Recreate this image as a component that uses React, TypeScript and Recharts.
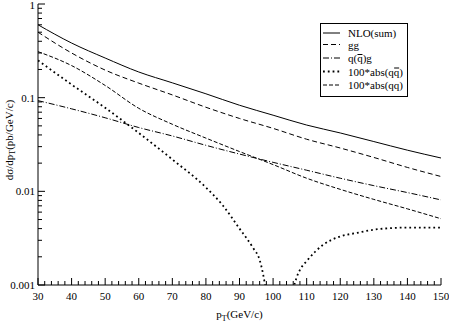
import React from "react";
import { LineChart, Line, XAxis, YAxis, Legend } from "recharts";

// pT grid (GeV/c) shared by the smooth curves
const ptGrid = [30, 40, 50, 60, 70, 80, 90, 100, 110, 120, 130, 140, 150];

// dσ/dpT (pb/GeV/c)
const nloSum = [0.6, 0.383, 0.265, 0.188, 0.144, 0.11, 0.083, 0.065, 0.051, 0.042, 0.034, 0.0275, 0.0227];
const ggVals = [0.5, 0.3, 0.197, 0.143, 0.107, 0.079, 0.06, 0.047, 0.036, 0.029, 0.023, 0.018, 0.0144];
const qgVals = [0.093, 0.076, 0.061, 0.048, 0.039, 0.031, 0.025, 0.0204, 0.0168, 0.0138, 0.0115, 0.0097, 0.0081];
const qqVals = [0.31, 0.22, 0.135, 0.077, 0.052, 0.037, 0.0266, 0.0193, 0.0138, 0.0105, 0.0082, 0.0065, 0.0051];

// 100*abs(qqbar) goes through zero near 102, needs a finer grid there
const ptQqbar = [30, 40, 50, 60, 70, 80, 85, 90, 92, 94, 96, 97, 98, 100, 102, 104, 106, 107, 108, 110, 115, 120, 125, 130, 140, 150];
const qqbarVals = [
  0.25, 0.138, 0.078, 0.042, 0.0219, 0.011, 0.0071, 0.004, 0.0032, 0.0025, 0.00185, 0.00132, 0.00082,
  0.00025, 0.00003, 0.00025, 0.00089, 0.0012, 0.00145, 0.0018, 0.0027, 0.0033, 0.0036, 0.0039, 0.0041, 0.0041,
];

const xTicks = Array.from({ length: 61 }, (_, i) => 30 + i * 2);
const yTicks = [0.001, 0.01, 0.1, 1].flatMap((d) =>
  d === 1 ? [1] : [1, 2, 3, 4, 5, 6, 7, 8, 9].map((m) => +(m * d).toPrecision(3))
);
const yLabels = [0.001, 0.01, 0.1, 1];

const FONT = "'Liberation Serif', 'Times New Roman', serif";

const toPoints = (xs: number[], ys: number[]) => xs.map((pt, i) => ({ pt, v: ys[i] }));

// label pieces: [text before the barred q, barred q, text after]
const SERIES = [
  { id: "nlo", label: ["NLO(sum)", "", ""], data: toPoints(ptGrid, nloSum), dash: undefined, width: 1 },
  { id: "gg", label: ["gg", "", ""], data: toPoints(ptGrid, ggVals), dash: "5 3", width: 1 },
  { id: "qg", label: ["q(", "q", ")g"], data: toPoints(ptGrid, qgVals), dash: "6 2 1 2", width: 1 },
  { id: "qqbar", label: ["100*abs(q", "q", ")"], data: toPoints(ptQqbar, qqbarVals), dash: "1.8 3", width: 1.8 },
  { id: "qq", label: ["100*abs(qq)", "", ""], data: toPoints(ptGrid, qqVals), dash: "4 2", width: 1 },
];

// legend row centres inside the box (rows with a bar get a bit more room)
const rowY = [10, 21.5, 35, 48.5, 62];

// Times/Liberation Serif advance widths (em) for the glyphs before a bar
const GLYPH_W: Record<string, number> = { q: 0.5, "(": 0.333, "1": 0.5, "0": 0.5, "*": 0.5, a: 0.444, b: 0.5, s: 0.389 };
const textWidth = (s: string, size: number) => s.split("").reduce((w, c) => w + (GLYPH_W[c] ?? 0.5) * size, 0);

function BottomTick(props: any) {
  const { x, y, payload } = props;
  const major = payload.value % 10 === 0;
  return (
    <g>
      <line x1={x} y1={y} x2={x} y2={y - (major ? 7 : 4)} stroke="#000" />
      {major && (
        <text x={x} y={y + 15} textAnchor="middle" fontSize={11} fontFamily={FONT} fill="#000">
          {payload.value}
        </text>
      )}
    </g>
  );
}

function TopTick(props: any) {
  const { x, y, payload } = props;
  const major = payload.value % 10 === 0;
  return <line x1={x} y1={y} x2={x} y2={y + (major ? 7 : 4)} stroke="#000" />;
}

function LeftTick(props: any) {
  const { x, y, payload } = props;
  const major = yLabels.includes(payload.value);
  return (
    <g>
      <line x1={x} y1={y} x2={x + (major ? 7 : 4)} y2={y} stroke="#000" />
      {major && (
        <text
          x={x - 3}
          y={y + (payload.value === 1 ? 5 : 4)}
          textAnchor="end"
          fontSize={11}
          fontFamily={FONT}
          fill="#000"
        >
          {payload.value}
        </text>
      )}
    </g>
  );
}

function RightTick(props: any) {
  const { x, y, payload } = props;
  const major = yLabels.includes(payload.value);
  return <line x1={x} y1={y} x2={x - (major ? 7 : 4)} y2={y} stroke="#000" />;
}

function XTitle(props: any) {
  const { viewBox } = props;
  const cx = viewBox.x + viewBox.width / 2;
  return (
    <text x={cx} y={viewBox.y + 33} textAnchor="middle" fontSize={11} fontFamily={FONT} fill="#000">
      <tspan>p</tspan>
      <tspan dy={3} fontSize={8}>T</tspan>
      <tspan dy={-3}>(GeV/c)</tspan>
    </text>
  );
}

function YTitle() {
  const cx = 9;
  const cy = 140;
  return (
    <text
      x={cx}
      y={cy}
      transform={`rotate(-90, ${cx}, ${cy})`}
      textAnchor="middle"
      dominantBaseline="central"
      fontSize={11}
      fontFamily={FONT}
      fill="#000"
    >
      <tspan>dσ/dp</tspan>
      <tspan dy={3} fontSize={8}>T</tspan>
      <tspan dy={-3}>(pb/GeV/c)</tspan>
    </text>
  );
}

function LegendBox() {
  const W = 88;
  const H = 74;
  const textX = 28;
  return (
    <svg width={W} height={H} style={{ display: "block" }}>
      <rect x={0.5} y={0.5} width={W - 1} height={H - 1} fill="#fff" stroke="#000" />
      {SERIES.map((s, i) => {
        const cy = rowY[i];
        const base = cy + 4;
        const [pre, barred, post] = s.label;
        const bx = textX + textWidth(pre, 11);
        return (
          <g key={s.id}>
            <line x1={3} y1={cy} x2={20} y2={cy} stroke="#000" strokeWidth={s.width} strokeDasharray={s.dash} />
            <text x={textX} y={base} fontSize={11} fontFamily={FONT} fill="#000">
              {pre + barred + post}
            </text>
            {barred && <line x1={bx + 0.3} y1={base - 7.5} x2={bx + 5.3} y2={base - 7.5} stroke="#000" />}
          </g>
        );
      })}
    </svg>
  );
}

export default function App() {
  return (
    <div style={{ position: "absolute", left: 0, top: 0, width: 449, height: 323, background: "#fff" }}>
      <LineChart width={449} height={323} margin={{ top: 4, right: 8, bottom: 0, left: 0 }}>
        <XAxis
          xAxisId="bottom"
          dataKey="pt"
          type="number"
          domain={[30, 150]}
          ticks={xTicks}
          interval={0}
          allowDataOverflow
          height={38}
          tickSize={0}
          tickMargin={0}
          tickLine={false}
          axisLine={{ stroke: "#000" }}
          tick={<BottomTick />}
          label={<XTitle />}
        />
        <XAxis
          xAxisId="top"
          orientation="top"
          dataKey="pt"
          type="number"
          domain={[30, 150]}
          ticks={xTicks}
          interval={0}
          height={0}
          tickSize={0}
          tickMargin={0}
          tickLine={false}
          axisLine={{ stroke: "#000" }}
          tick={<TopTick />}
        />
        <YAxis
          yAxisId="left"
          scale="log"
          type="number"
          domain={[0.001, 1]}
          ticks={yTicks}
          interval={0}
          allowDataOverflow
          width={38}
          tickSize={0}
          tickMargin={0}
          tickLine={false}
          axisLine={{ stroke: "#000" }}
          tick={<LeftTick />}
        />
        <YAxis
          yAxisId="right"
          orientation="right"
          scale="log"
          type="number"
          domain={[0.001, 1]}
          ticks={yTicks}
          interval={0}
          width={0}
          tickSize={0}
          tickMargin={0}
          tickLine={false}
          axisLine={{ stroke: "#000" }}
          tick={<RightTick />}
        />
        {SERIES.map((s) => (
          <Line
            key={s.id}
            xAxisId="bottom"
            yAxisId="left"
            data={s.data}
            dataKey="v"
            name={s.id}
            type="monotone"
            stroke="#000"
            strokeWidth={s.width}
            strokeDasharray={s.dash}
            dot={false}
            activeDot={false}
            isAnimationActive={false}
          />
        ))}
        <Legend
          layout="horizontal"
          verticalAlign="middle"
          align="center"
          content={<LegendBox />}
          wrapperStyle={{ left: 320, top: 23, width: "auto", right: "auto", bottom: "auto" }}
        />
        <YTitle />
      </LineChart>
    </div>
  );
}
